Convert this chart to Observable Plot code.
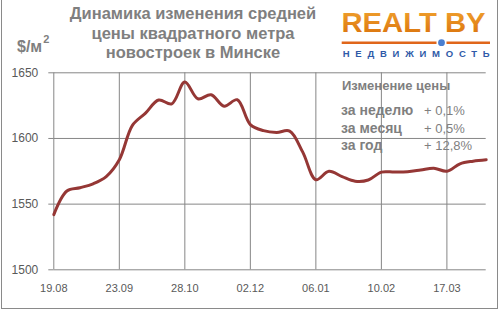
<!DOCTYPE html>
<html>
<head>
<meta charset="utf-8">
<script src="https://cdn.jsdelivr.net/npm/d3@7"></script>
<script src="https://cdn.jsdelivr.net/npm/@observablehq/plot@0.6"></script>
<style>
  html, body { margin: 0; padding: 0; background: #fff; }
  #wrap { position: relative; width: 500px; height: 311px; overflow: hidden; font-family: "Liberation Sans", Arial, sans-serif; }
  #chart { position: absolute; left: 0; top: 0; }
  .frame { position: absolute; left: 1px; top: -1px; width: 495px; height: 309px; border: 1px solid #8a8a8a; border-top: none; }
  .title { position: absolute; left: 0px; width: 386px; top: 4.3px; text-align: center; color: #7f7f7f; font-weight: bold; font-size: 16.5px; line-height: 19.4px; white-space: nowrap; }
  .unit { position: absolute; left: 17px; top: 36px; color: #7f7f7f; font-weight: bold; font-size: 16px; }
  .unit sup { font-size: 11px; position: relative; top: -3px; margin-left: 1px; }
  .box-title { position: absolute; left: 342px; top: 78.2px; color: #7f7f7f; font-weight: bold; font-size: 13px; }
  .row-label { position: absolute; left: 341px; color: #7f7f7f; font-weight: bold; font-size: 14px; }
  .row-value { position: absolute; left: 424px; color: #7f7f7f; font-size: 13px; }
  #logo { position: absolute; left: 0; top: 0; }
</style>
</head>
<body>
<div id="wrap">
  <div id="chart"></div>
  <div class="frame"></div>
  <div class="title">Динамика изменения средней<br>цены квадратного метра<br>новостроек в Минске</div>
  <div class="unit">$/м<sup>2</sup></div>
  <svg id="logo" width="500" height="70">
    <defs>
      <linearGradient id="og" x1="0" y1="0" x2="0" y2="1">
        <stop offset="0" stop-color="#f2a531"/>
        <stop offset="1" stop-color="#d9700a"/>
      </linearGradient>
    </defs>
    <text x="341.5" y="31.7" font-family="Liberation Sans, Arial, sans-serif" font-weight="bold" font-size="28" fill="url(#og)" textLength="144" lengthAdjust="spacingAndGlyphs">REALT BY</text>
    <line x1="341.7" x2="436.5" y1="42.7" y2="42.7" stroke="#e0661a" stroke-width="2.5"/>
    <line x1="446.5" x2="490" y1="42.7" y2="42.7" stroke="#e0661a" stroke-width="2.5"/>
    <circle cx="441.5" cy="42.7" r="3.4" fill="#4a7fd0"/>
    <text x="342.7" y="57.3" font-family="Liberation Sans, Arial, sans-serif" font-weight="bold" font-size="9.5" fill="#2f5aa8" textLength="147" lengthAdjust="spacing">НЕДВИЖИМОСТЬ</text>
  </svg>
  <div id="legend"></div>
</div>
<script>
// ---- data ----
const weeks = [
  "2013-08-19","2013-08-26","2013-09-02","2013-09-09","2013-09-16","2013-09-23",
  "2013-09-30","2013-10-07","2013-10-14","2013-10-21","2013-10-28","2013-11-04",
  "2013-11-11","2013-11-18","2013-11-25","2013-12-02","2013-12-09","2013-12-16",
  "2013-12-23","2013-12-30","2014-01-06","2014-01-13","2014-01-20","2014-01-27",
  "2014-02-03","2014-02-10","2014-02-17","2014-02-24","2014-03-03","2014-03-10",
  "2014-03-17","2014-03-24","2014-03-31","2014-04-07"
];
const prices = [
  1542, 1560, 1562.5, 1565.5, 1571, 1583.8,
  1610, 1619.3, 1629.3, 1626.4, 1643, 1630.2,
  1633.3, 1624.6, 1629.5, 1610.6, 1606, 1604.6,
  1605.6, 1589.6, 1568.6, 1575, 1571, 1567.5,
  1568.4, 1574.4, 1574.4, 1574.7, 1576, 1577.4,
  1575, 1580.7, 1582.7, 1583.8
];
const xTickDates = ["2013-08-19","2013-09-23","2013-10-28","2013-12-02","2014-01-06","2014-02-10","2014-03-17"];
const yTicks = [1500, 1550, 1600, 1650];
const changeLabels = ["за неделю", "за месяц", "за год"];
const changeValues = ["+ 0,1%", "+ 0,5%", "+ 12,8%"];
const boxTitle = "Изменение цены";

// ---- build ----
const parse = d3.utcParse("%Y-%m-%d");
const data = weeks.map((w, i) => ({date: parse(w), price: prices[i]}));
const xTicks = xTickDates.map(parse);

const chart = Plot.plot({
  width: 500,
  height: 311,
  marginLeft: 53.3,
  marginRight: 14.3,
  marginTop: 72.3,
  marginBottom: 41.7,
  style: {fontFamily: "Liberation Sans, Arial, sans-serif", background: "transparent"},
  x: {type: "utc", domain: [data[0].date, data[data.length - 1].date]},
  y: {domain: [1500, 1650]},
  marks: [
    Plot.gridY(yTicks, {stroke: "#868686", strokeOpacity: 1}),
    Plot.gridX(xTicks, {stroke: "#868686", strokeOpacity: 1}),
    Plot.axisY(yTicks, {tickSize: 5, tickPadding: 10.5, stroke: "#868686", fill: "#595959", fontSize: 12, tickFormat: d => String(d), label: null}),
    Plot.axisX(xTicks, {tickSize: 0, tickPadding: 14, fill: "#595959", fontSize: 11, tickFormat: d3.utcFormat("%d.%m"), label: null}),
    Plot.lineY(data, {x: "date", y: "price", stroke: "#953735", strokeWidth: 3, curve: "catmull-rom"})
  ]
});
document.getElementById("chart").appendChild(chart);

// legend box texts
const legend = document.getElementById("legend");
const t = document.createElement("div");
t.className = "box-title"; t.textContent = boxTitle; legend.appendChild(t);
const tops = [102.3, 119.6, 137.3];
changeLabels.forEach((lab, i) => {
  const a = document.createElement("div");
  a.className = "row-label"; a.style.top = tops[i] + "px"; a.textContent = lab; legend.appendChild(a);
  const b = document.createElement("div");
  b.className = "row-value"; b.style.top = (tops[i] + 0.9) + "px"; b.textContent = changeValues[i]; legend.appendChild(b);
});
</script>
</body>
</html>
